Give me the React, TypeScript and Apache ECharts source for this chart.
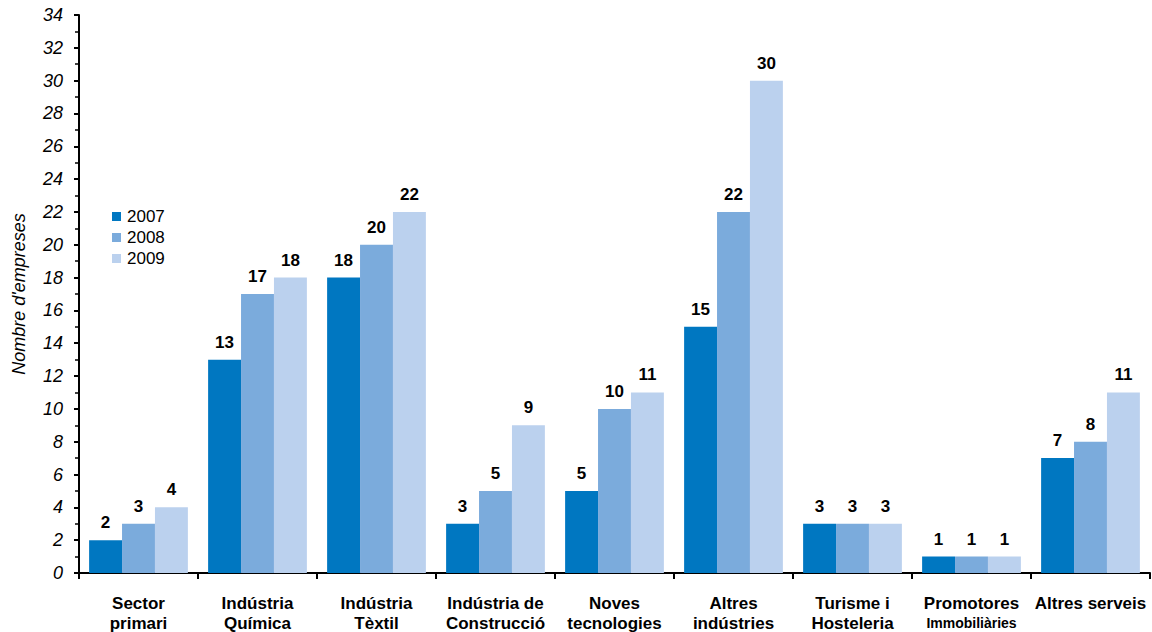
import React, { useEffect, useRef } from "react";
import * as echarts from "echarts";

const categories = [
  "Sector\nprimari",
  "Indústria\nQuímica",
  "Indústria\nTèxtil",
  "Indústria de\nConstrucció",
  "Noves\ntecnologies",
  "Altres\nindústries",
  "Turisme i\nHosteleria",
  "Promotores\n{s|Immobiliàries}",
  "Altres serveis",
];
const seriesNames = ["2007", "2008", "2009"];
const values2007 = [2, 13, 18, 3, 5, 15, 3, 1, 7];
const values2008 = [3, 17, 20, 5, 10, 22, 3, 1, 8];
const values2009 = [4, 18, 22, 9, 11, 30, 3, 1, 11];
const colors = ["#0077C1", "#7BABDC", "#BBD1EE"];
const yAxisTitle = "Nombre d'empreses";

export default function App() {
  const ref = useRef<HTMLDivElement>(null);
  useEffect(() => {
    const chart = echarts.init(ref.current!, null, { renderer: "svg" });
    const font = "Liberation Sans, Arial, sans-serif";
    const data = [values2007, values2008, values2009];
    chart.setOption({
      animation: false,
      textStyle: { fontFamily: font },
      grid: { left: 79, right: 2, top: 15, bottom: 59, containLabel: false, outerBoundsMode: "none" },
      legend: {
        orient: "vertical",
        left: 112,
        top: 208,
        padding: 0,
        itemWidth: 9,
        itemHeight: 9,
        itemGap: 4,
        icon: "rect",
        data: seriesNames,
        textStyle: { fontSize: 17, color: "#000", fontFamily: font, padding: [0, 0, 0, 1] },
      },
      xAxis: {
        type: "category",
        data: categories,
        axisLine: { lineStyle: { color: "#000", width: 2 } },
        axisTick: { show: true, alignWithLabel: false, length: 6, lineStyle: { color: "#000", width: 2 } },
        axisLabel: {
          interval: 0,
          color: "#000",
          fontWeight: "bold",
          fontSize: 17,
          lineHeight: 20,
          margin: 20,
          fontFamily: font,
          rich: { s: { fontSize: 14, fontWeight: "bold", lineHeight: 20, fontFamily: font, color: "#000" } },
        },
      },
      yAxis: {
        type: "value",
        min: 0,
        max: 34,
        interval: 2,
        name: yAxisTitle,
        nameLocation: "middle",
        nameGap: 51,
        nameRotate: 90,
        nameTextStyle: { fontStyle: "italic", fontSize: 18, color: "#000", fontFamily: font },
        splitLine: { show: false },
        axisLine: { show: true, lineStyle: { color: "#000", width: 2 } },
        axisTick: { show: true, length: 5, lineStyle: { color: "#000", width: 2 } },
        minorTick: { show: true, splitNumber: 2, length: 4, lineStyle: { color: "#000", width: 1.5 } },
        axisLabel: { color: "#000", fontStyle: "italic", fontSize: 18, margin: 16, fontFamily: font },
      },
      series: seriesNames.map((name, i) => ({
        name,
        type: "bar",
        data: data[i],
        barGap: "0%",
        barCategoryGap: "17%",
        itemStyle: { color: colors[i] },
        label: {
          show: true,
          position: "top",
          distance: 9,
          color: "#000",
          fontWeight: "bold",
          fontSize: 17,
          fontFamily: font,
        },
      })),
    });
    return () => chart.dispose();
  }, []);
  return <div ref={ref} style={{ width: 1152, height: 632, position: "absolute", left: 0, top: 0 }} />;
}
